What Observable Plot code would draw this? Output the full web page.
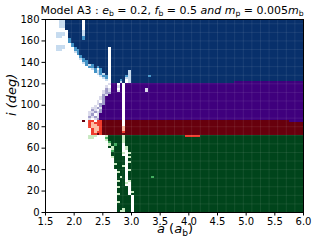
<!DOCTYPE html>
<html><head><meta charset="utf-8">
<script src="https://cdn.jsdelivr.net/npm/d3@7"></script>
<script src="https://cdn.jsdelivr.net/npm/@observablehq/plot@0.6"></script>
<style>
html,body{margin:0;padding:0;background:#fff;}
#wrap{position:relative;width:316px;height:241px;overflow:hidden;font-family:"DejaVu Sans",sans-serif;color:#000;}
#chart svg{display:block;}
#title{position:absolute;top:5px;left:172px;transform:translateX(-50%);white-space:nowrap;font-size:11px;line-height:11px;}
#xlabel{position:absolute;top:222px;left:175px;transform:translateX(-50%);white-space:nowrap;font-size:13px;line-height:13px;}
sub{font-size:70%;line-height:0;vertical-align:-0.28em;font-style:normal;}
</style></head><body>
<div id="wrap"><div id="chart"></div>
<div id="title">Model A3 : <i>e</i><sub>b</sub> = 0.2, <i>f</i><sub>b</sub> = 0.5 <i>and</i> <i>m</i><sub>p</sub> = 0.005<i>m</i><sub>b</sub></div>
<div id="xlabel"><i>a</i> (<i>a</i><sub>b</sub>)</div>
</div>
<script>
const aTicks = [1.5, 2.0, 2.5, 3.0, 3.5, 4.0, 4.5, 5.0, 5.5, 6.0];
const iTicks = [0, 20, 40, 60, 80, 100, 120, 140, 160, 180];

const codes = [".", "b", "B", "N", "p", "P", "V", "r", "R", "D", "g", "G", "E"];
const codeColors = ["#ffffff", "#c6dbef", "#4292c6", "#08306b", "#dadaeb", "#9e9ac8", "#3f007d",
                    "#fcbba1", "#ef3b2c", "#67000d", "#c7e9c0", "#41ab5d", "#00441b"];

// uniform outcome bands (a range, inclination range, outcome code)
const bandA0 = [1.5, 4.8, 1.5, 4.8, 5.75, 1.5, 5.75, 1.5, 3.95];
const bandA1 = [4.8, 6.0, 4.8, 5.75, 6.0, 5.75, 6.0, 6.0, 4.2];
const bandI0 = [120, 122, 86, 86, 84, 72, 72, 0, 70];
const bandI1 = [180, 180, 120, 122, 122, 86, 84, 72, 72];
const bandCode = ["N", "N", "V", "V", "V", "D", "D", "E", "R"];

// fine raster of the unstable edge: cells of 0.05 a_b by 2 deg, rows from i=180 downward
const gridA0 = 1.5, cellA = 0.05, gridITop = 180, cellI = 2;
const rowLead = [5,5,5,5,7,8,4,4,4,8,8,9,4,4,4,10,11,12,12,13,13,14,15,16,17,18,19,20,21,23,
  22,21,21,20,20,20,19,19,18,18,17,16,16,15,15,15,15,
  13,15,15,15,16,16,16,
  15,15,21,22,22,22,23,23,23,23,23,24,24,24,24,24,25,25,25,25,25,25,25,25,25,25,25,25,25,25,25,25,25,25,25,25];
const rowCells = [
  "bbNNNNNN.", "bbNNNNNN.", "bbNNNNNN.", "bbNNNNNN.", "NNNNNN.", "NNNNNb", "bbb.NNNNNb", "bbb.NNNNNb",
  "bb..NNNNNB", "BNNNNB", "B", "B", "bbb..B", "bbb...BNNNNNNNNNNN.", "bb....BBNNNNNNNNNN.",
  "bBNNNNNNNNNN.", "BNNNNNNNNNN.", "BNNNNNNNNN.", "bBNNNNNNNN.", "BBNNNNNNN.", "bBNNNNNNN.",
  "BbBNNNNN.", "BBNBNNN.", "bB.BNN.", "BbBNN.NNNNNNb", "bBbN.NNNNNNb", "bBB.NNNNNBbNNNNNNB",
  "bB.NNNNNbb", "b.NNNBN.b", "NNNbN.b",
  "pVV.V.", "p.VVpV.", "PpVV.V.VVVVVVVp", "pPpVVpV.VVVVVVVp", "pPPVVVV.", "PpVVVVV.", "pPVVVVVV.",
  "pPVVVVVV.", "p.PVVVVVV.", "pPPVVVVVV.", "p.PVVVVVVV.", "ppPpVVVVVVV.", "Pp.PVVVVVVV.",
  "ppPpPVVVVVVV.", "pP.pVVVVVVVV.", "PpPpVVVVVVVV.", "p.pPVVVVVVVV.",
  "D.RR.RRDDDDDDD.", "RrRRRDDDDDDD.", "RrrRRDDDDDDD.", "RrrrRDDDDDDDr", "RrrRDDDDDDDr", "RrRRDDDDDDDR", "RRDR",
  "ggg...gEEEEEg", "gg....GEEEEEg", "gEEEEEg", "GEEEEg", "gEGEE.", "EgEEE.g", "gEEE.g", "GEEE..",
  "EEEEg.g", "EEEE..", "gEEEE.g", "EEEE.", "EEEE.g", "gEEE.", "EEEg.", "EEEE.", "EEE.g", "gEE.",
  "EEE.", "EgE.EEEEEEEEG", "EEE.", "gEE.g", "EEEg.", "EEE..", "gEEE.", "EEEE.", "EEEE.g", "gEEE.",
  "EEEEE.", "EEEEE.", "EEEEE.", "gEEEE.", "EEEEE.", "EEEEE.", "EEgEE.", "EggEE."
];

const blocks = bandCode.map((c, k) => ({a0: bandA0[k], a1: bandA1[k], i0: bandI0[k], i1: bandI1[k], code: c}));
const cells = [];
rowLead.forEach((lead, r) => {
  const i1 = gridITop - r * cellI, i0 = i1 - cellI;
  if (lead > 0) cells.push({a0: gridA0, a1: gridA0 + lead * cellA, i0, i1, code: "."});
  [...rowCells[r]].forEach((c, j) => {
    if ("NVDE".includes(c)) return;
    const k = lead + j;
    cells.push({a0: gridA0 + k * cellA, a1: gridA0 + (k + 1) * cellA, i0, i1, code: c});
  });
});

const seamA = d3.range(1.65, 5.99, 0.15);
const seamI = d3.range(8, 180, 8);

const chart = Plot.plot({
  width: 316, height: 241,
  marginLeft: 45, marginRight: 13, marginTop: 19, marginBottom: 29,
  style: {fontFamily: "DejaVu Sans", fontSize: "10px", background: "transparent", color: "black"},
  x: {domain: [1.5, 6], ticks: aTicks, tickFormat: d3.format(".1f"), tickSize: 3.5, tickPadding: 1.5, label: null},
  y: {domain: [0, 180], ticks: iTicks, tickSize: 3.5, tickPadding: 2.5, label: null},
  color: {type: "ordinal", domain: codes, range: codeColors},
  marks: [
    Plot.rect(blocks, {x1: "a0", x2: "a1", y1: "i0", y2: "i1", fill: "code", shapeRendering: "crispEdges"}),
    Plot.rect(cells, {x1: "a0", x2: "a1", y1: "i0", y2: "i1", fill: "code", shapeRendering: "crispEdges"}),
    Plot.ruleX(seamA, {stroke: "white", strokeOpacity: 0.08}),
    Plot.ruleY(seamI, {stroke: "white", strokeOpacity: 0.08}),
    Plot.text(["i (deg)"], {text: d => d, frameAnchor: "left", dx: -34, rotate: -90, fontStyle: "italic", fontSize: 13}),
    Plot.frame()
  ]
});
document.getElementById("chart").appendChild(chart);
</script>
</body></html>
